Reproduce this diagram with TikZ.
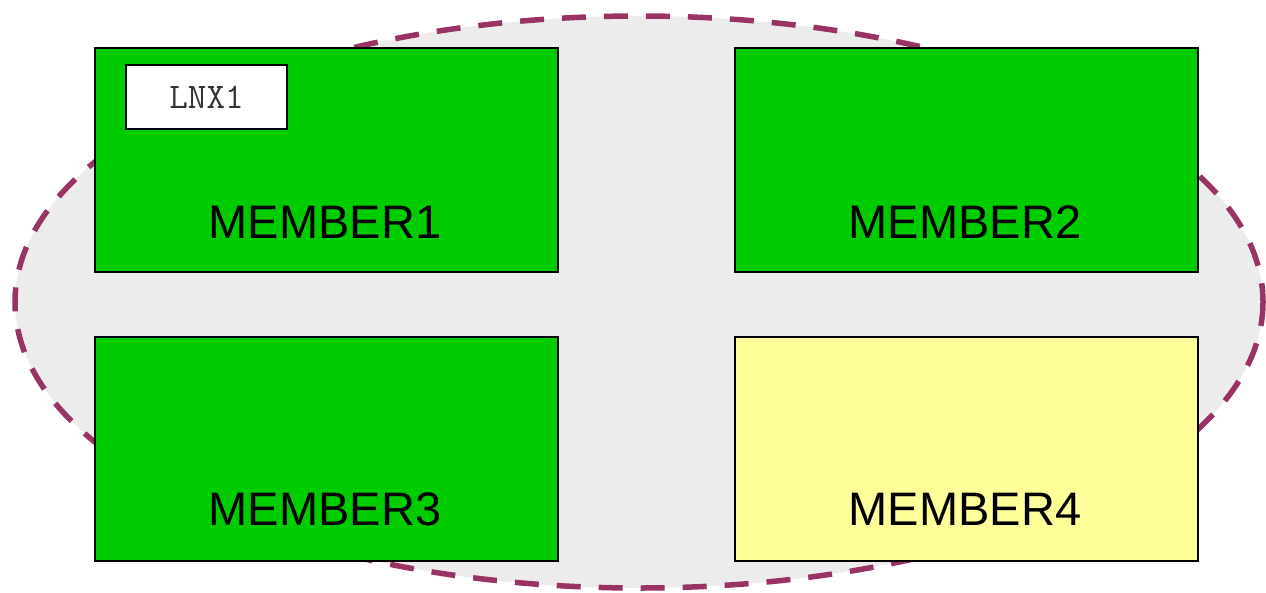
\documentclass[tikz,border=0pt]{standalone}
\usepackage{fontspec}
\setmainfont{Liberation Sans}
\definecolor{ringcol}{HTML}{993366}
\definecolor{memgreen}{HTML}{00CC00}
\definecolor{memyellow}{HTML}{FFFF99}
\definecolor{meshgray}{HTML}{ECECEC}
\definecolor{lnxtext}{HTML}{333333}
\tikzset{
  member/.style={draw=black, line width=2pt, minimum width=463pt, minimum height=224pt, inner sep=0pt},
  memlabel/.style={font=\fontsize{47}{50}\selectfont, inner sep=0pt, anchor=base},
  lnxbox/.style={draw=black, fill=white, line width=2pt, minimum width=161pt, minimum height=64pt, inner sep=0pt, text=lnxtext, font=\ttfamily\fontsize{36}{38}\selectfont},
  ring/.style={draw=ringcol, line width=5.5pt, dash pattern=on 24pt off 18pt, fill=meshgray}
}
\begin{document}
\begin{tikzpicture}[x=1pt,y=-1pt]
\useasboundingbox (0,0) rectangle (1266,592);
\draw[ring] (639,302) ellipse [x radius=624, y radius=286];
\node[member, fill=memgreen, anchor=north west] (m1) at (94,47) {};
\node[member, fill=memgreen, anchor=north west] (m2) at (734,47) {};
\node[member, fill=memgreen, anchor=north west] (m3) at (94,336) {};
\node[member, fill=memyellow, anchor=north west] (m4) at (734,336) {};
\node[memlabel] (t1) at (325,238) {MEMBER1};
\node[memlabel] (t2) at (965,238) {MEMBER2};
\node[memlabel] (t3) at (325,525) {MEMBER3};
\node[memlabel] (t4) at (965,525) {MEMBER4};
\node[lnxbox, anchor=north west] (lnx) at (125,64) {LNX1};
\end{tikzpicture}
\end{document}
